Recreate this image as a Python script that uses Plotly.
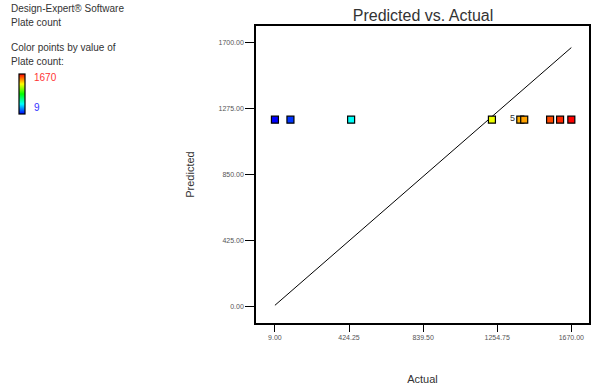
import plotly.graph_objects as go

# Plate count: actual observations and model predictions
actual = [9, 96, 436, 1225, 1384, 1406, 1551, 1607, 1670]
predicted = [1205, 1205, 1205, 1205, 1205, 1205, 1205, 1205, 1205]

# Reference (y = x) line endpoints
line_x = [9, 1670]
line_y = [9, 1670]

x_ticks = [9.00, 424.25, 839.50, 1254.75, 1670.00]
y_ticks = [0.00, 425.00, 850.00, 1275.00, 1700.00]

# Overlapping-point count shown next to the cluster
count_label = "5"
count_at = (1384, 1205)

font_family = "Liberation Sans, Arial, sans-serif"

dx_scale = [
    [0.0, "#0000ff"],
    [0.25, "#00ffff"],
    [0.5, "#00ff00"],
    [0.75, "#ffff00"],
    [1.0, "#ff0000"],
]

fig = go.Figure()

fig.add_trace(go.Scatter(
    x=line_x, y=line_y, mode="lines",
    line=dict(color="black", width=1),
    hoverinfo="skip", showlegend=False,
))

fig.add_trace(go.Scatter(
    x=actual, y=predicted, mode="markers",
    marker=dict(
        symbol="square", size=7,
        color=actual, cmin=min(actual), cmax=max(actual),
        colorscale=dx_scale,
        line=dict(color="black", width=1.2),
        colorbar=dict(
            x=(18 - 256) / 335, xanchor="left", xpad=0, ypad=0,
            y=(323 - 94) / 297, yanchor="middle",
            lenmode="pixels", len=40,
            thicknessmode="pixels", thickness=6,
            outlinewidth=1.2, outlinecolor="black",
            showticklabels=False, ticks="",
        ),
    ),
    showlegend=False,
))

fig.add_annotation(
    x=count_at[0], y=count_at[1], text=count_label, showarrow=False,
    xshift=-8, yshift=2, font=dict(size=9, color="#333333", family=font_family),
)

tickfont = dict(size=7, color="#555555", family=font_family)

fig.update_xaxes(
    range=[-97, 1769], tickvals=x_ticks,
    ticktext=[f"{v:.2f}" for v in x_ticks],
    ticks="outside", ticklen=7, tickwidth=1, tickcolor="black",
    showline=True, linecolor="black", linewidth=1.5, mirror=True,
    showgrid=False, zeroline=False, tickfont=tickfont,
    title=dict(text="Actual", font=dict(size=11, color="#333333", family=font_family), standoff=35),
)
fig.update_yaxes(
    range=[-105, 1809], tickvals=y_ticks,
    ticktext=[f"{v:.2f}" for v in y_ticks],
    ticks="outside", ticklen=9, tickwidth=1, tickcolor="black",
    showline=True, linecolor="black", linewidth=1.5, mirror=True,
    showgrid=False, zeroline=False, tickfont=tickfont,
    title=dict(text="Predicted", font=dict(size=11, color="#333333", family=font_family), standoff=22),
)

# Software and colour-key notes in the upper left
notes = [
    ("Design-Expert® Software", 8),
    ("Plate count", 22),
    ("Color points by value of", 47),
    ("Plate count:", 61),
]
for txt, ypx in notes:
    fig.add_annotation(
        xref="paper", yref="paper",
        x=(8 - 256) / 335, y=(323 - ypx) / 297,
        xanchor="left", yanchor="middle", showarrow=False, text=txt,
        font=dict(size=10, color="#333333", family=font_family),
    )
fig.add_annotation(
    xref="paper", yref="paper", x=(31 - 256) / 335, y=(323 - 77) / 297,
    xanchor="left", yanchor="middle", showarrow=False, text=f"{max(actual)}",
    font=dict(size=10, color="#ff3333", family=font_family),
)
fig.add_annotation(
    xref="paper", yref="paper", x=(31 - 256) / 335, y=(323 - 108) / 297,
    xanchor="left", yanchor="middle", showarrow=False, text=f"{min(actual)}",
    font=dict(size=10, color="#3333ff", family=font_family),
)

fig.update_layout(
    width=597, height=390,
    margin=dict(l=256, r=6, t=26, b=67),
    paper_bgcolor="white", plot_bgcolor="white",
    title=dict(
        text="Predicted vs. Actual", x=(423) / 597, xanchor="center",
        y=1 - 15 / 390, yanchor="middle",
        font=dict(size=16, color="#333333", family=font_family),
    ),
)

fig.write_html("out.html")
